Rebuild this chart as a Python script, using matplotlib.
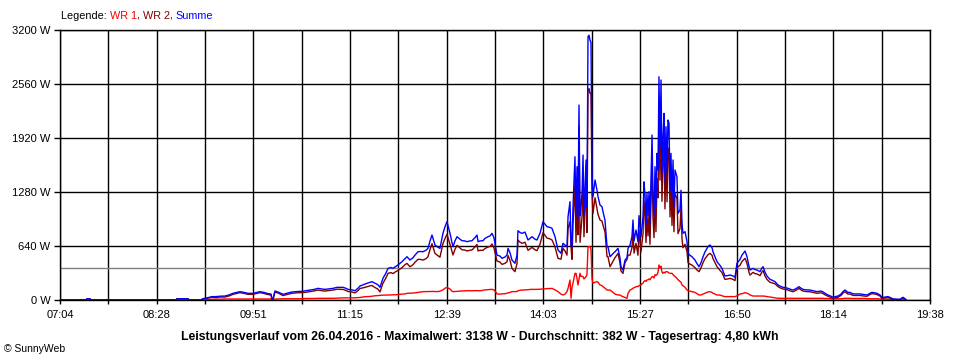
import numpy as np
import matplotlib
matplotlib.use('Agg')
from matplotlib import pyplot as plt

plt.rcParams['font.family'] = ['Liberation Sans', 'DejaVu Sans']

# time axis: minutes after 07:04 (axis ends at 19:38 = 754 min)
minutes = [
    0.0, 22.5, 23.4, 26.0, 26.9, 100.5, 101.4, 110.9, 111.8, 122.2,
    123.9, 127.4, 131.7, 135.2, 138.7, 143.0, 146.5, 149.9, 153.4, 156.0,
    159.5, 162.9, 167.3, 170.7, 173.3, 176.8, 179.4, 182.9, 183.7, 184.6,
    186.3, 189.8, 193.3, 196.7, 201.1, 205.4, 209.7, 213.2, 216.7, 220.1,
    223.6, 227.1, 229.7, 233.1, 236.6, 240.1, 242.7, 245.3, 247.9, 249.6,
    253.1, 255.7, 258.3, 260.0, 263.5, 266.1, 268.7, 270.4, 273.0, 275.6,
    277.3, 279.9, 282.5, 284.3, 286.9, 288.6, 291.2, 292.9, 296.4, 299.0,
    300.7, 303.3, 305.9, 307.7, 310.3, 312.9, 314.6, 317.2, 318.9, 320.7,
    322.4, 325.0, 327.6, 329.3, 331.9, 333.7, 335.4, 338.0, 339.7, 340.6,
    342.3, 344.1, 346.7, 348.4, 351.0, 352.7, 355.3, 357.1, 359.7, 361.4,
    362.3, 364.0, 366.6, 368.3, 370.9, 372.7, 374.4, 376.1, 377.9, 378.7,
    381.3, 383.1, 385.7, 387.4, 388.3, 390.0, 391.7, 394.3, 396.1, 396.9,
    398.7, 400.4, 403.0, 405.6, 407.3, 409.1, 411.7, 413.4, 416.0, 418.6,
    420.3, 422.1, 424.7, 426.4, 429.0, 431.6, 434.2, 435.9, 437.7, 439.4,
    440.3, 442.0, 442.9, 443.7, 444.6, 446.3, 447.2, 448.1, 448.9, 449.8,
    450.7, 451.5, 452.4, 453.3, 454.1, 455.9, 456.7, 457.6, 458.5, 459.3,
    460.2, 461.1, 461.9, 463.7, 465.4, 466.3, 468.0, 469.7, 470.6, 472.3,
    474.1, 474.9, 476.7, 479.3, 481.0, 483.6, 485.3, 486.2, 487.9, 489.7,
    491.4, 492.3, 494.0, 495.7, 496.6, 497.5, 499.2, 500.9, 501.8, 503.5,
    505.3, 506.1, 507.0, 507.9, 508.7, 509.6, 510.5, 511.3, 513.1, 513.9,
    514.8, 515.7, 516.5, 517.4, 518.3, 519.1, 520.0, 520.9, 521.7, 522.6,
    523.5, 524.3, 525.2, 526.1, 526.9, 527.8, 528.7, 529.5, 530.4, 531.3,
    532.1, 533.0, 534.7, 535.6, 537.3, 538.2, 539.1, 539.9, 541.7, 543.4,
    544.3, 546.0, 547.7, 550.3, 552.1, 553.8, 555.5, 557.3, 559.0, 561.6,
    563.3, 565.1, 565.9, 567.7, 569.4, 572.0, 573.7, 576.3, 578.9, 580.7,
    583.3, 585.0, 586.7, 589.3, 591.1, 593.7, 595.4, 597.1, 598.0, 600.6,
    602.3, 604.1, 606.7, 608.4, 609.3, 611.0, 612.7, 615.3, 617.9, 619.7,
    622.3, 624.0, 626.6, 629.2, 630.9, 633.5, 635.3, 637.9, 640.5, 642.2,
    643.9, 646.5, 650.0, 652.6, 656.1, 658.7, 660.4, 663.0, 665.6, 668.2,
    669.9, 671.7, 674.3, 676.9, 678.6, 680.3, 682.9, 684.7, 687.3, 690.7,
    693.3, 696.8, 699.4, 702.0, 703.7, 706.3, 708.1, 710.7, 712.4, 715.0,
    717.6, 720.2, 721.9, 725.4, 728.0, 729.7, 730.6, 732.3, 733.2,
]

# Summe (W)
summe = [
    0, 0, 15, 15, 0, 0, 15, 15, 0, 0,
    15, 25, 40, 40, 45, 47, 60, 79, 90, 99,
    90, 79, 79, 90, 99, 90, 79, 70, 12, 15,
    107, 90, 67, 80, 95, 100, 103, 110, 118, 125,
    138, 130, 126, 132, 138, 150, 150, 150, 138, 126,
    120, 110, 140, 166, 185, 198, 210, 217, 198, 180,
    150, 257, 320, 375, 385, 375, 400, 415, 454, 490,
    513, 474, 500, 533, 572, 575, 572, 590, 612, 700,
    770, 652, 625, 612, 790, 870, 928, 790, 680, 632,
    700, 750, 720, 703, 700, 691, 700, 703, 740, 770,
    691, 700, 703, 730, 750, 760, 790, 738, 600, 533,
    520, 494, 510, 533, 612, 560, 474, 435, 533, 821,
    800, 790, 805, 711, 730, 750, 720, 711, 790, 928,
    900, 869, 860, 849, 750, 593, 553, 672, 650, 632,
    987, 1165, 650, 632, 1100, 1698, 1000, 1580, 950, 2311,
    1000, 1100, 1264, 1718, 1000, 1659, 1100, 3120, 3138, 3081,
    3050, 1500, 1224, 1422, 1300, 1224, 1126, 1106, 1047, 948,
    632, 632, 513, 550, 572, 612, 500, 395, 355, 474,
    500, 612, 650, 750, 948, 700, 830, 691, 1000, 750,
    987, 1400, 1244, 900, 1264, 1000, 1284, 900, 1955, 1264,
    1000, 1580, 1100, 1738, 1541, 2646, 1800, 2607, 1500, 1935,
    2212, 1400, 2054, 1500, 2133, 2093, 1300, 1738, 1200, 1659,
    1100, 1540, 1461, 1027, 1067, 1300, 900, 790, 810, 691,
    553, 530, 513, 474, 430, 395, 440, 513, 570, 632,
    652, 620, 572, 513, 454, 410, 375, 284, 290, 296,
    285, 269, 435, 480, 533, 580, 513, 400, 355, 375,
    360, 355, 336, 380, 395, 330, 284, 245, 230, 217,
    178, 165, 150, 145, 138, 125, 118, 135, 158, 140,
    126, 120, 118, 110, 99, 105, 103, 80, 59, 45,
    32, 40, 47, 70, 100, 118, 90, 90, 72, 72,
    72, 65, 59, 80, 91, 85, 79, 59, 28, 35,
    40, 25, 12, 10, 8, 25, 32, 15, 0,
]

# WR 1 (W)
wr1 = [
    0, 0, 0, 0, 0, 0, 0, 0, 0, 0,
    0, 5, 8, 10, 10, 12, 12, 12, 12, 12,
    12, 12, 12, 12, 12, 12, 12, 12, 12, 12,
    12, 12, 15, 15, 15, 15, 15, 18, 18, 18,
    20, 20, 20, 20, 20, 22, 24, 25, 25, 25,
    25, 26, 28, 30, 38, 40, 42, 45, 50, 52,
    55, 58, 58, 59, 60, 62, 62, 65, 70, 72,
    79, 80, 82, 85, 90, 95, 99, 100, 100, 100,
    102, 100, 100, 105, 120, 140, 150, 130, 105, 99,
    100, 102, 105, 108, 108, 110, 110, 110, 110, 112,
    110, 110, 115, 120, 122, 125, 126, 120, 90, 71,
    70, 72, 75, 80, 85, 90, 99, 99, 100, 110,
    115, 118, 120, 122, 125, 126, 126, 126, 128, 130,
    132, 135, 136, 138, 120, 99, 70, 59, 70, 100,
    138, 237, 20, 150, 200, 316, 316, 250, 178, 250,
    316, 280, 280, 277, 250, 277, 300, 632, 632, 632,
    600, 250, 198, 210, 217, 210, 178, 170, 160, 140,
    118, 118, 118, 90, 70, 60, 59, 50, 40, 30,
    20, 80, 118, 130, 140, 145, 158, 160, 170, 180,
    200, 220, 230, 220, 237, 240, 250, 240, 277, 277,
    260, 300, 290, 300, 330, 415, 380, 400, 330, 316,
    330, 320, 336, 336, 330, 320, 316, 316, 316, 300,
    290, 280, 257, 240, 220, 210, 178, 170, 150, 118,
    110, 105, 99, 90, 75, 59, 60, 70, 80, 95,
    99, 90, 80, 70, 59, 59, 50, 40, 40, 40,
    40, 40, 50, 70, 75, 87, 80, 70, 60, 47,
    47, 47, 47, 47, 47, 45, 40, 35, 30, 25,
    20, 20, 20, 20, 20, 20, 20, 20, 20, 20,
    20, 20, 20, 20, 20, 20, 20, 18, 15, 15,
    15, 15, 15, 15, 18, 20, 20, 20, 18, 18,
    18, 18, 15, 15, 15, 15, 15, 12, 10, 10,
    10, 8, 6, 5, 5, 5, 5, 3, 0,
]

time_labels = ['07:04', '08:28', '09:51', '11:15', '12:39',
               '14:03', '15:27', '16:50', '18:14', '19:38']
power_ticks = [0, 640, 1280, 1920, 2560, 3200]
average = 382

# WR 2 is what is left of the sum
minutes = np.array(minutes)
summe = np.array(summe)
wr1 = np.array(wr1)
wr2 = summe - wr1

fig = plt.figure(figsize=(9.6, 3.6), dpi=100)
ax = fig.add_axes([60 / 960, 60 / 360, 870 / 960, 270 / 360])

ax.axhline(average, color='#808080', lw=1.0, zorder=1)
ax.plot(minutes, wr1, color='#ff0000', lw=1.0, zorder=2)
ax.plot(minutes, wr2, color='#800000', lw=1.0, zorder=2)
ax.plot(minutes, summe, color='#0000ff', lw=1.0, zorder=2)

ax.set_xlim(0, 754)
ax.set_ylim(0, 3200)
ax.set_xticks(np.linspace(0, 754, len(time_labels)))
ax.set_xticklabels(time_labels)
ax.set_xticks(np.linspace(0, 754, 2 * len(time_labels) - 1), minor=True)
ax.set_yticks(power_ticks)
ax.set_yticklabels(['{} W'.format(v) for v in power_ticks])

ax.xaxis.grid(True, which='both', color='black', lw=1.0)
ax.yaxis.grid(True, which='major', color='black', lw=1.0)
ax.set_axisbelow(True)
for s in ax.spines.values():
    s.set_color('black')
    s.set_linewidth(1.0)

ax.tick_params(axis='x', which='both', length=3, width=1.0, pad=4, labelsize=8)
ax.tick_params(axis='y', length=4, width=1.0, pad=3, labelsize=8)

# legend line on top, coloured word by word
fig.text(61 / 960, 1 - 16 / 360, 'Legende: ', fontsize=7.8, va='center', ha='left')
parts = [('WR 1', '#ff0000'), (', ', 'black'), ('WR 2', '#800000'),
         (', ', 'black'), ('Summe', '#0000ff')]
fig.canvas.draw()
renderer = fig.canvas.get_renderer()
x_px = 61 + fig.texts[0].get_window_extent(renderer).width
for txt, col in parts:
    t = fig.text(x_px / 960, 1 - 16 / 360, txt, fontsize=7.8, va='center', ha='left', color=col)
    x_px += t.get_window_extent(renderer).width

fig.text(0.5, 1 - 337 / 360,
         'Leistungsverlauf vom 26.04.2016 - Maximalwert: 3138 W - Durchschnitt: 382 W - Tagesertrag: 4,80 kWh',
         fontsize=8.8, fontweight='bold', ha='center', va='center')
fig.text(4 / 960, 1 - 349 / 360, '\u00a9 SunnyWeb', fontsize=7.5, ha='left', va='center')

fig.savefig('out.png', dpi=100, facecolor='white')
